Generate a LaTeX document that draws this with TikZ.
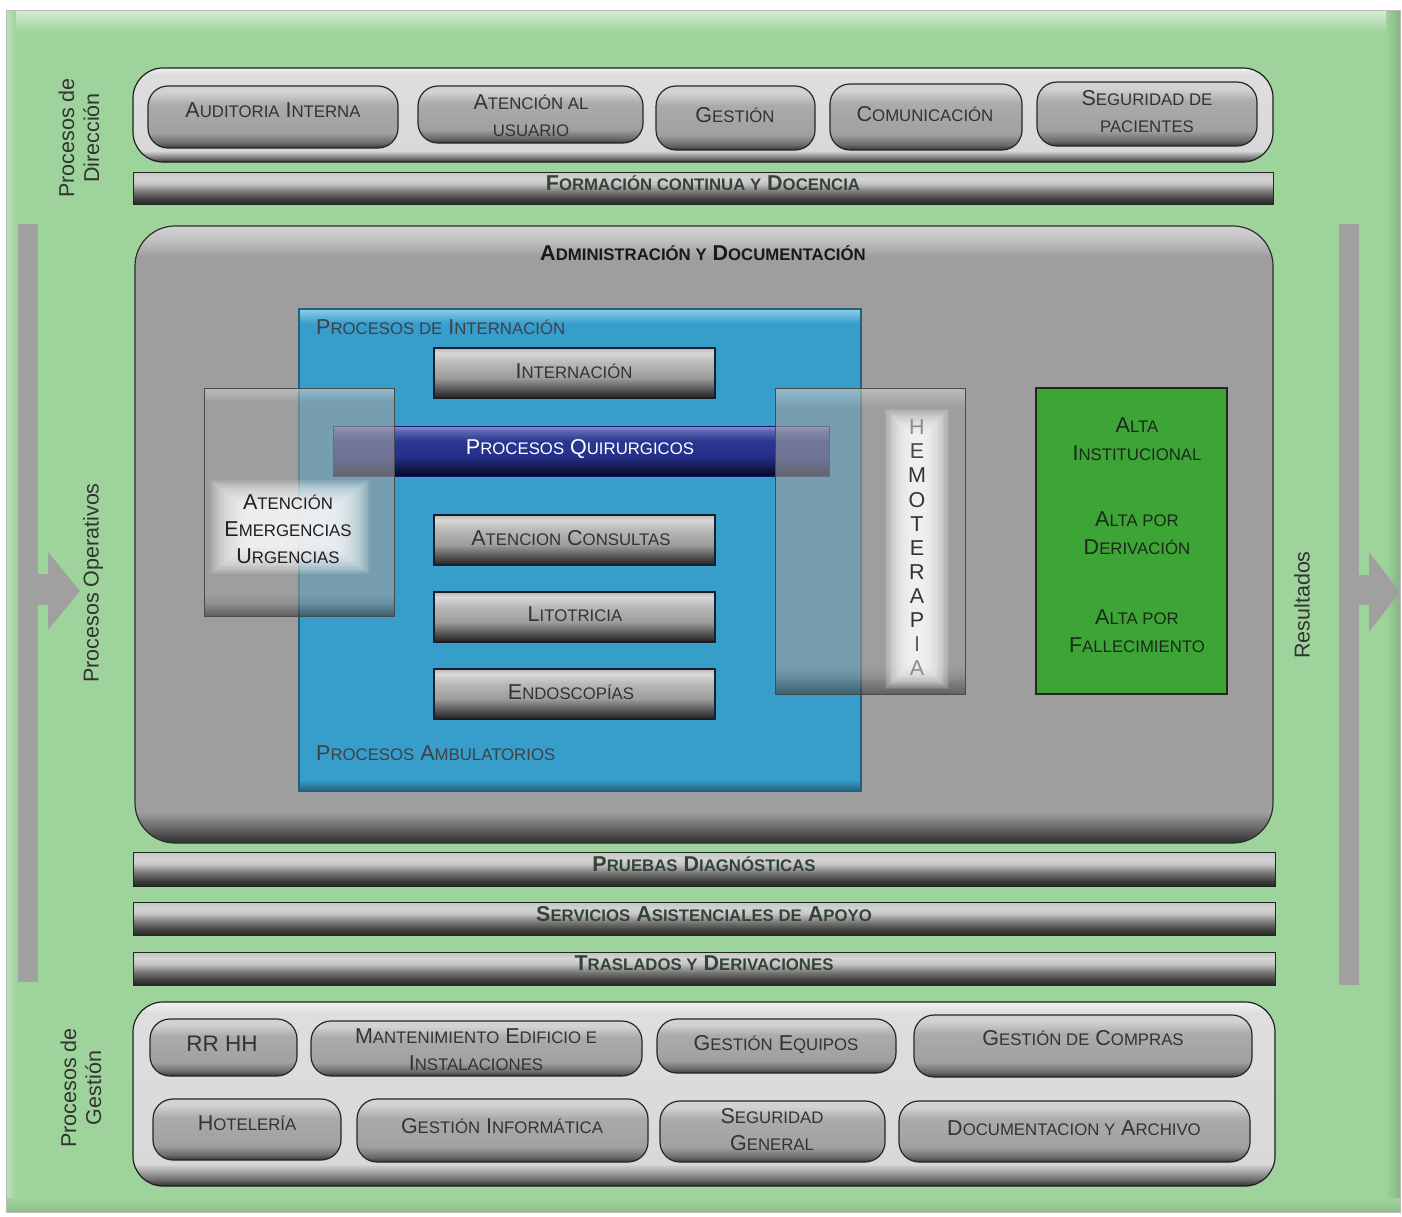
\documentclass[tikz,border=0pt]{standalone}
\usepackage{fontspec}
\setmainfont{Liberation Sans}
\makeatletter
\newcommand\s[1]{{\fontsize{\fpeval{0.78*\f@size}}{\f@baselineskip}\selectfont #1}}
\makeatother
\newcommand\fnt{\fontsize{21.5}{27}\selectfont}
\newcommand\fntg{\fontsize{21.5}{28}\selectfont}
\newcommand\fntl{\fontsize{21.5}{25}\selectfont}
\definecolor{bggreen}{HTML}{9ED39B}
\definecolor{gTop}{HTML}{D8EDD6}
\definecolor{gLeft}{HTML}{BFE2BC}
\definecolor{gRight}{HTML}{86B583}
\definecolor{gBot}{HTML}{8DBF8A}
\definecolor{arr}{HTML}{A0A0A0}
\definecolor{pD}{HTML}{363636}
\definecolor{pD2}{HTML}{6A6A6A}
\definecolor{pM}{HTML}{A0A0A0}
\definecolor{pM2}{HTML}{ABABAB}
\definecolor{pL}{HTML}{D2D2D2}
\definecolor{pE}{HTML}{262626}
\definecolor{bD}{HTML}{282828}
\definecolor{bD2}{HTML}{3C3C3C}
\definecolor{bM}{HTML}{7A7A7A}
\definecolor{bL}{HTML}{C4C4C4}
\definecolor{bL2}{HTML}{D4D4D4}
\definecolor{bE}{HTML}{1E2A1E}
\definecolor{iD}{HTML}{222222}
\definecolor{iD2}{HTML}{4A4A4A}
\definecolor{iM}{HTML}{9C9C9C}
\definecolor{iM2}{HTML}{B8B8B8}
\definecolor{iL}{HTML}{D8D8D8}
\definecolor{iE}{HTML}{1A1E2A}
\definecolor{qD}{HTML}{05071A}
\definecolor{qD2}{HTML}{101848}
\definecolor{qM}{HTML}{25308A}
\definecolor{qM2}{HTML}{2A3792}
\definecolor{qL}{HTML}{5A64B0}
\definecolor{qL2}{HTML}{9098CC}
\definecolor{cD}{HTML}{303030}
\definecolor{cD2}{HTML}{747474}
\definecolor{cM}{HTML}{D8D8D8}
\definecolor{cM2}{HTML}{DEDEDE}
\definecolor{cL}{HTML}{F2F2F2}
\definecolor{cE}{HTML}{1E1E1E}
\definecolor{mD}{HTML}{2E2E2E}
\definecolor{mD2}{HTML}{6A6A6A}
\definecolor{mM}{HTML}{9E9E9E}
\definecolor{mL}{HTML}{C4C4C4}
\definecolor{mL2}{HTML}{D2D2D2}
\definecolor{blD}{HTML}{23627E}
\definecolor{blM}{HTML}{379ECB}
\definecolor{blL}{HTML}{90CDE8}
\definecolor{tD}{HTML}{333333}
\definecolor{bT}{HTML}{344434}
\definecolor{sT}{HTML}{333333}
\definecolor{tI}{HTML}{404048}
\definecolor{trD}{HTML}{3A3A3A}
\definecolor{trD2}{HTML}{8A8A8A}
\definecolor{trM}{HTML}{9F9F9F}
\definecolor{trL}{HTML}{D0D0D0}
\definecolor{trE}{HTML}{4A4A4A}
\definecolor{altaG}{HTML}{3DA535}
\definecolor{altaT}{HTML}{1C281C}
\pgfdeclareverticalshading{pillsh}{100bp}{color(0bp)=(pD); color(25bp)=(pD); color(29bp)=(pD2); color(37bp)=(pM); color(60bp)=(pM2); color(70bp)=(pL); color(75bp)=(pL); color(100bp)=(pL)}
\pgfdeclareverticalshading{barsh}{100bp}{color(0bp)=(bD); color(25bp)=(bD); color(32bp)=(bD2); color(45bp)=(bM); color(57bp)=(bL); color(65bp)=(bL2); color(75bp)=(bL); color(100bp)=(bL)}
\pgfdeclareverticalshading{innersh}{100bp}{color(0bp)=(iD); color(25bp)=(iD); color(32bp)=(iD2); color(45bp)=(iM); color(60bp)=(iM2); color(70bp)=(iL); color(75bp)=(iM2); color(100bp)=(iM2)}
\pgfdeclareverticalshading{quirsh}{100bp}{color(0bp)=(qD); color(25bp)=(qD); color(32bp)=(qD2); color(45bp)=(qM); color(60bp)=(qM2); color(70bp)=(qL); color(75bp)=(qL2); color(100bp)=(qL2)}
\pgfdeclareverticalshading{contsh}{100bp}{color(0bp)=(cD); color(25bp)=(cD); color(27bp)=(cD2); color(31bp)=(cM); color(72bp)=(cM2); color(75bp)=(cL); color(100bp)=(cL)}
\pgfdeclareverticalshading{mainsh}{100bp}{color(0bp)=(mD); color(25bp)=(mD); color(26.3bp)=(mD2); color(27.5bp)=(mM); color(72.5bp)=(mM); color(74bp)=(mL); color(75bp)=(mL2); color(100bp)=(mL2)}
\pgfdeclareverticalshading{bluesh}{100bp}{color(0bp)=(blD); color(25bp)=(blD); color(26.2bp)=(blM); color(73.5bp)=(blM); color(75bp)=(blL); color(100bp)=(blL)}
\pgfdeclareverticalshading{transsh}{100bp}{color(0bp)=(trD); color(25bp)=(trD); color(28bp)=(trD2); color(30bp)=(trM); color(72bp)=(trM); color(75bp)=(trL); color(100bp)=(trL)}
\begin{document}
\begin{tikzpicture}[x=1pt,y=-1pt,
 pill/.style={rounded corners=20pt, draw=pE, line width=1.2pt, shade, shading=pillsh, inner sep=0pt},
 bar/.style={draw=bE, line width=1pt, shade, shading=barsh, inner sep=0pt, minimum width=1142pt},
 ibar/.style={draw=iE, line width=1.5pt, shade, shading=innersh, inner sep=0pt, minimum width=281pt, minimum height=50pt},
 cont/.style={rounded corners=30pt, draw=cE, line width=1.2pt, shade, shading=contsh, inner sep=0pt},
 trans/.style={draw=trE, line width=1pt, fill opacity=0.62, shade, shading=transsh, inner sep=0pt},
 txt/.style={font=\fnt, text=tD, inner sep=0pt, anchor=base},
 mtxt/.style={font=\fnt, text=tD, inner sep=0pt, align=center},
 btxt/.style={font=\fnt\bfseries, text=bT, inner sep=0pt, anchor=base},
 side/.style={font=\fntl, text=sT, rotate=90, align=center, inner sep=0pt},
 gtxt/.style={font=\fntg, text=altaT, inner sep=0pt, align=center}]
\useasboundingbox (0,0) rectangle (1402,1216);
% background frame
\fill[white] (0,0) rectangle (1402,1216);
\fill[bggreen] (6,10) rectangle (1400,1212);
\shade[top color=gTop, bottom color=bggreen] (6,10) rectangle (1400,32);
\shade[left color=gLeft, right color=bggreen] (6,10) rectangle (16,1212);
\shade[left color=bggreen, right color=gRight] (1386,10) rectangle (1400,1212);
\shade[top color=bggreen, bottom color=gBot] (6,1198) rectangle (1400,1212);
\draw[gray!55, line width=1pt] (6,10) rectangle (1400,1212);
% side bars and arrows
\fill[arr] (18,224) rectangle (38,982);
\fill[arr] (38,574) -- (48,574) -- (48,552) -- (80,591) -- (48,630) -- (48,605) -- (38,605) -- cycle;
\fill[arr] (1339,224) rectangle (1359,985);
\fill[arr] (1359,575) -- (1369,575) -- (1369,552) -- (1400,592) -- (1369,632) -- (1369,605) -- (1359,605) -- cycle;
% top container
\node[cont, minimum width=1140pt, minimum height=94pt] (topc) at (703,115) {};
\node[pill, minimum width=250pt, minimum height=62pt] (aud) at (273,117) {};
\node[txt] (aud-t) at (273,117.7) {A\s{UDITORIA} I\s{NTERNA}};
\node[pill, minimum width=225pt, minimum height=57pt] (ate) at (530.5,114.5) {};
\node[mtxt] (ate-t) at (531,115.5) {A\s{TENCIÓN AL}\\\s{USUARIO}};
\node[pill, minimum width=159pt, minimum height=64pt] (ges) at (735.5,118) {};
\node[txt] (ges-t) at (735,122.7) {G\s{ESTIÓN}};
\node[pill, minimum width=192pt, minimum height=66pt] (com) at (926,117) {};
\node[txt] (com-t) at (925,121.7) {C\s{OMUNICACIÓN}};
\node[pill, minimum width=220pt, minimum height=64pt] (seg) at (1147,114) {};
\node[mtxt] (seg-t) at (1147,111.5) {S\s{EGURIDAD DE}\\\s{PACIENTES}};
% formacion bar
\node[bar, minimum width=1140pt, minimum height=32pt] (form) at (703,188) {};
\node[btxt] (form-t) at (703,190.7) {F\s{ORMACIÓN CONTINUA Y} D\s{OCENCIA}};
% main box
\node[draw=mD, line width=1.2pt, rounded corners=40pt, shade, shading=mainsh, minimum width=1138pt, minimum height=617pt, inner sep=0pt] (main) at (704,534.5) {};
\node[btxt, text=black!90] (main-t) at (703,260.7) {A\s{DMINISTRACIÓN Y} D\s{OCUMENTACIÓN}};
% blue box
\node[draw=blD, line width=1.2pt, shade, shading=bluesh, minimum width=562pt, minimum height=482pt, inner sep=0pt] (blue) at (580,550) {};
\node[txt, anchor=base west, text=tI] (intl) at (316,334.7) {P\s{ROCESOS DE} I\s{NTERNACIÓN}};
\node[txt, anchor=base west, text=tI] (ambl) at (316,760.7) {P\s{ROCESOS} A\s{MBULATORIOS}};
\node[ibar] (inter) at (574.5,373) {};
\node[txt] (inter-t) at (574,378.7) {I\s{NTERNACIÓN}};
\node[draw=iE!70!blue, line width=1pt, shade, shading=quirsh, minimum width=496pt, minimum height=50pt, inner sep=0pt] (quir) at (581,451) {};
\node[txt, text=white] (quir-t) at (580,454.7) {P\s{ROCESOS} Q\s{UIRURGICOS}};
\node[ibar] (cons) at (574.5,540) {};
\node[txt] (cons-t) at (571,545.7) {A\s{TENCION} C\s{ONSULTAS}};
\node[ibar] (lito) at (574.5,617) {};
\node[txt] (lito-t) at (575,621.7) {L\s{ITOTRICIA}};
\node[ibar] (endo) at (574.5,694) {};
\node[txt] (endo-t) at (571,699.7) {E\s{NDOSCOPÍAS}};
% left translucent box (urgencias)
\node[trans, minimum width=190pt, minimum height=228pt] (urg) at (299,502) {};
\foreach \i in {0,...,21}
  \fill[white, opacity=0.09] (210+1.7*\i,480+1.35*\i) rectangle (370-1.7*\i,574-1.35*\i);
\node[mtxt, text=black!88] (urg-t) at (288,529) {A\s{TENCIÓN}\\E\s{MERGENCIAS}\\U\s{RGENCIAS}};
% right translucent box (hemoterapia)
\node[trans, minimum width=190pt, minimum height=306pt] (hemo) at (870,541) {};
\foreach \i in {0,...,21}
  \fill[white, opacity=0.095] (885+1.2*\i,409+1.2*\i) rectangle (949-1.2*\i,689-1.2*\i);
\foreach \l/\c [count=\i from 0] in {H/45,E/72,M/80,O/80,T/80,E/80,R/80,A/80,P/80,I/62,A/45}
  \node[txt, font=\fntl, text=black!\c] (hem\i) at (917,427+24.1*\i+7.7) {\l};
% green box
\node[draw=black!85, line width=2pt, fill=altaG, minimum width=191pt, minimum height=306pt, inner sep=0pt] (alta) at (1131.5,541) {};
\node[gtxt] (alta1) at (1137,439) {A\s{LTA}\\I\s{NSTITUCIONAL}};
\node[gtxt] (alta2) at (1137,533.5) {A\s{LTA POR}\\D\s{ERIVACIÓN}};
\node[gtxt] (alta3) at (1137,631.5) {A\s{LTA POR}\\F\s{ALLECIMIENTO}};
% bottom bars
\node[bar, minimum height=34pt] (prue) at (704,869) {};
\node[btxt] (prue-t) at (704,871.7) {P\s{RUEBAS} D\s{IAGNÓSTICAS}};
\node[bar, minimum height=33pt] (serv) at (704,918.5) {};
\node[btxt] (serv-t) at (704,921.7) {S\s{ERVICIOS} A\s{SISTENCIALES DE} A\s{POYO}};
\node[bar, minimum height=33pt] (tras) at (704,968.5) {};
\node[btxt] (tras-t) at (704,970.7) {T\s{RASLADOS Y} D\s{ERIVACIONES}};
% bottom container
\node[cont, minimum width=1142pt, minimum height=184pt] (botc) at (704,1094) {};
\node[pill, minimum width=147pt, minimum height=57pt] (rrhh) at (223.5,1047.5) {};
\node[txt, font=\fontsize{22.5}{27}\selectfont] (rrhh-t) at (222,1051) {RR HH};
\node[pill, minimum width=331pt, minimum height=55pt] (mant) at (476.5,1048.5) {};
\node[mtxt] (mant-t) at (476,1049.5) {M\s{ANTENIMIENTO} E\s{DIFICIO E}\\I\s{NSTALACIONES}};
\node[pill, minimum width=239pt, minimum height=54pt] (geq) at (776.5,1046) {};
\node[txt] (geq-t) at (776,1050.7) {G\s{ESTIÓN} E\s{QUIPOS}};
\node[pill, minimum width=338pt, minimum height=62pt] (gcom) at (1083,1046) {};
\node[txt] (gcom-t) at (1083,1045.7) {G\s{ESTIÓN DE} C\s{OMPRAS}};
\node[pill, minimum width=188pt, minimum height=61pt] (hot) at (247,1129.5) {};
\node[txt] (hot-t) at (247,1130.7) {H\s{OTELERÍA}};
\node[pill, minimum width=291pt, minimum height=63pt] (ginf) at (502.5,1130.5) {};
\node[txt] (ginf-t) at (502,1133.7) {G\s{ESTIÓN} I\s{NFORMÁTICA}};
\node[pill, minimum width=225pt, minimum height=61pt] (segg) at (772.5,1131.5) {};
\node[mtxt] (segg-t) at (772,1130) {S\s{EGURIDAD}\\G\s{ENERAL}};
\node[pill, minimum width=351pt, minimum height=61pt] (doc) at (1074.5,1131.5) {};
\node[txt] (doc-t) at (1074,1135.7) {D\s{OCUMENTACION Y} A\s{RCHIVO}};
% side labels
\node[side] (ldir) at (79,138) {Procesos de\\Dirección};
\node[side] (lope) at (93,583) {Procesos Operativos};
\node[side] (lres) at (1302,605) {Resultados};
\node[side] (lges) at (81,1088) {Procesos de\\Gestión};
\end{tikzpicture}
\end{document}
